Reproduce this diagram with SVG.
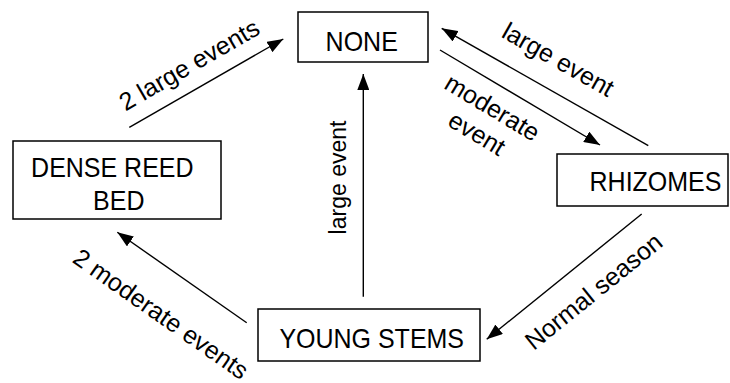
<svg xmlns="http://www.w3.org/2000/svg" width="730" height="383" viewBox="0 0 730 383">
<style>
.box{fill:#fff;stroke:#000;stroke-width:1.5}
.nl{font-family:"Liberation Sans",Arial,sans-serif;font-size:25px;fill:#000;text-anchor:middle}
.el{font-family:"Liberation Sans",Arial,sans-serif;font-size:25px;fill:#000;text-anchor:middle}
.cn{fill:none;stroke:#000;stroke-width:1.4}
</style>
<defs>
<marker id="ah" viewBox="0 0 16 12" refX="16" refY="6" markerWidth="16" markerHeight="12" markerUnits="userSpaceOnUse" orient="auto">
<path d="M0,0 L16,6 L0,12 Z" fill="#000"/>
</marker>
</defs>
<rect width="730" height="383" fill="#fff"/>
<g id="connectors">
<path class="cn" d="M129.3,127.3 L283.3,39" marker-end="url(#ah)"/>
<path class="cn" d="M363.3,296.7 L363.3,74" marker-end="url(#ah)"/>
<path class="cn" d="M440,50 L600,145" marker-end="url(#ah)"/>
<path class="cn" d="M648.3,145.7 L441.7,28.3" marker-end="url(#ah)"/>
<path class="cn" d="M641.7,214 L486.7,339.3" marker-end="url(#ah)"/>
<path class="cn" d="M246.7,322.7 L117.3,232.3" marker-end="url(#ah)"/>
<text class="el" transform="translate(193.5,72.3) rotate(-30)">2 large events</text>
<text class="el" style="font-size:23px" transform="translate(346,177.5) rotate(-90)">large event</text>
<text class="el" transform="translate(554,67) rotate(29.5)">large event</text>
<g transform="translate(488,115) rotate(31)">
<text class="el" x="0" y="0">moderate</text>
<text class="el" x="0" y="30">event</text>
</g>
<text class="el" transform="translate(156,321) rotate(35)">2 moderate events</text>
<text class="el" transform="translate(599,298) rotate(-39)">Normal season</text>
</g>
<g id="none">
<rect class="box" x="298" y="12" width="130" height="50"/>
<text class="nl" transform="translate(361.7,51.3) scale(1,1.1)">NONE</text>
</g>
<g id="dense-reed-bed">
<rect class="box" x="13" y="141" width="208" height="78"/>
<text class="nl" transform="translate(112.3,177.3) scale(1,1.1)">DENSE REED</text>
<text class="nl" transform="translate(118.8,210) scale(1,1.1)">BED</text>
</g>
<g id="rhizomes">
<rect class="box" x="557" y="154" width="171" height="52"/>
<text class="nl" transform="translate(655.5,190.7) scale(1,1.1)">RHIZOMES</text>
</g>
<g id="young-stems">
<rect class="box" x="258" y="309" width="222" height="52"/>
<text class="nl" transform="translate(371.7,348.3) scale(1,1.1)">YOUNG STEMS</text>
</g>
</svg>
